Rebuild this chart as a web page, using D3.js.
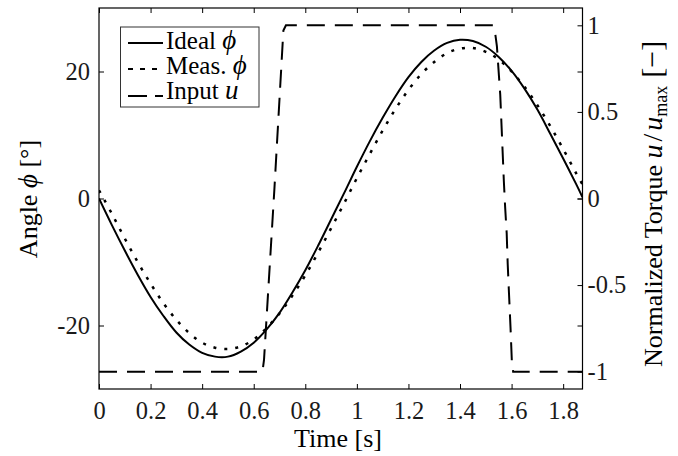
<!DOCTYPE html>
<html>
<head>
<meta charset="utf-8">
<script src="https://cdn.jsdelivr.net/npm/d3@7"></script>
<style>
  body { margin: 0; background: #fff; }
  svg { display: block; font-family: "Liberation Serif", "Times New Roman", serif; }
  .tick text { fill: #1a1a1a; font-family: "Liberation Serif", "Times New Roman", serif; }
</style>
</head>
<body>
<div id="chart"></div>
<script>
// time samples (s) for the angle curves
const timeSec = [0, 0.05, 0.1, 0.15, 0.2, 0.25, 0.3, 0.35, 0.4, 0.45, 0.5, 0.55, 0.6, 0.65,
  0.7, 0.75, 0.8, 0.85, 0.9, 0.95, 1.0, 1.05, 1.1, 1.15, 1.2, 1.25, 1.3, 1.35, 1.4, 1.45,
  1.5, 1.55, 1.6, 1.65, 1.7, 1.75, 1.8, 1.85, 1.875];

// ideal angle (deg)
const idealPhi = [0, -4.2, -8.2, -12.0, -15.5, -18.5, -21.1, -23.0, -24.3, -24.9, -24.9, -24.1,
  -22.7, -20.6, -18.0, -14.8, -11.3, -7.4, -3.3, 0.8, 5.0, 9.0, 12.7, 16.1, 19.1, 21.5, 23.3,
  24.5, 25.0, 24.8, 23.9, 22.3, 20.1, 17.3, 14.0, 10.2, 6.3, 2.3, 0.2];

// measured angle (deg)
const measPhi = [1.3, -2.4, -6.3, -10.0, -13.4, -16.5, -19.1, -21.2, -22.7, -23.5, -23.7, -23.3,
  -22.2, -20.4, -18.1, -15.3, -12.1, -8.5, -4.7, -0.8, 3.2, 7.0, 10.7, 14.1, 17.1, 19.6, 21.5,
  22.9, 23.6, 23.7, 23.1, 21.9, 20.0, 17.6, 14.7, 11.4, 7.8, 4.0, 2.2];

// normalized input torque u/umax (time, value)
const inputT = [0, 0.634, 0.64, 0.68, 0.715, 0.725, 1.528, 1.535, 1.543, 1.556, 1.563, 1.57,
  1.575, 1.581, 1.585, 1.59, 1.596, 1.601, 1.606, 1.875];
const inputU = [-1, -1, -0.93, 0.05, 0.97, 1, 1, 0.97, 0.88, 0.6, 0.35, 0.1,
  -0.05, -0.2, -0.38, -0.55, -0.75, -0.94, -1, -1];

const xTicks = [0, 0.2, 0.4, 0.6, 0.8, 1, 1.2, 1.4, 1.6, 1.8];
const leftTicks = [-20, 0, 20];
const rightTicks = [-1, -0.5, 0, 0.5, 1];

const W = 678, H = 456;
const margin = { top: 8, right: 95.5, bottom: 67, left: 99 };
const x0 = margin.left, x1 = W - margin.right;
const y0 = margin.top, y1 = H - margin.bottom;

const xScale = d3.scaleLinear().domain([0, 1.875]).range([x0, x1]);
const yLeft = d3.scaleLinear().domain([-30, 30]).range([y1, y0]);
const yRight = d3.scaleLinear().domain([-1.1, 1.1]).range([y1, y0]);

const svg = d3.select("#chart").append("svg")
  .attr("width", W)
  .attr("height", H);

svg.append("clipPath").attr("id", "clip")
  .append("rect")
  .attr("x", x0).attr("y", y0)
  .attr("width", x1 - x0).attr("height", y1 - y0);

const fontSize = 24.5;

// axes, ticks pointing inward; drop d3's sans-serif default so the serif font applies
function styleAxis(g) {
  g.attr("font-family", null).attr("font-size", fontSize);
  g.select(".domain").remove();
  g.selectAll(".tick line").attr("stroke", "#000");
}

svg.append("g")
  .attr("transform", `translate(0,${y1})`)
  .call(d3.axisBottom(xScale).tickValues(xTicks).tickFormat(d3.format("")).tickSize(-5).tickPadding(13))
  .call(styleAxis);

svg.append("g")
  .attr("transform", `translate(0,${y0})`)
  .call(d3.axisTop(xScale).tickValues(xTicks).tickFormat("").tickSize(-5))
  .call(styleAxis);

svg.append("g")
  .attr("transform", `translate(${x0},0)`)
  .call(d3.axisLeft(yLeft).tickValues(leftTicks).tickFormat(d => String(d)).tickSize(-5).tickPadding(9))
  .call(styleAxis);

// left ticks mirrored on the right edge
svg.append("g")
  .attr("transform", `translate(${x1},0)`)
  .call(d3.axisRight(yLeft).tickValues(leftTicks).tickFormat("").tickSize(-5))
  .call(styleAxis);

svg.append("g")
  .attr("transform", `translate(${x1},0)`)
  .call(d3.axisRight(yRight).tickValues(rightTicks).tickFormat(d => String(d)).tickSize(-5).tickPadding(5))
  .call(styleAxis);

// frame
svg.append("rect")
  .attr("x", x0).attr("y", y0)
  .attr("width", x1 - x0).attr("height", y1 - y0)
  .attr("fill", "none")
  .attr("stroke", "#000")
  .attr("stroke-width", 1.2);

const plot = svg.append("g").attr("clip-path", "url(#clip)");

const phiLine = d3.line()
  .x((d, i) => xScale(timeSec[i]))
  .y(d => yLeft(d))
  .curve(d3.curveCatmullRom);

const uLine = d3.line()
  .x((d, i) => xScale(inputT[i]))
  .y(d => yRight(d));

plot.append("path")
  .attr("d", uLine(inputU))
  .attr("fill", "none")
  .attr("stroke", "#000")
  .attr("stroke-width", 2)
  .attr("stroke-dasharray", "18,10");

plot.append("path")
  .attr("d", phiLine(measPhi))
  .attr("fill", "none")
  .attr("stroke", "#000")
  .attr("stroke-width", 2.5)
  .attr("stroke-dasharray", "3,8");

plot.append("path")
  .attr("d", phiLine(idealPhi))
  .attr("fill", "none")
  .attr("stroke", "#000")
  .attr("stroke-width", 2);

// axis labels
svg.append("text")
  .attr("x", 338).attr("y", 447)
  .attr("text-anchor", "middle")
  .attr("font-size", 26)
  .text("Time [s]");

const leftLabel = svg.append("text")
  .attr("transform", "translate(37,199) rotate(-90)")
  .attr("text-anchor", "middle")
  .attr("font-size", 26);
leftLabel.append("tspan").text("Angle ");
leftLabel.append("tspan").attr("font-style", "italic").attr("font-size", 27).text("ϕ");
leftLabel.append("tspan").text(" [°]");

const rightLabel = svg.append("text")
  .attr("transform", "translate(662,367) rotate(-90)")
  .attr("text-anchor", "start")
  .attr("font-size", 26);
rightLabel.append("tspan").text("Normalized Torque ");
rightLabel.append("tspan").attr("font-style", "italic").attr("font-size", 28).text("u");
rightLabel.append("tspan").attr("font-size", 28).attr("dx", 3).text("/");
rightLabel.append("tspan").attr("font-style", "italic").attr("font-size", 28).attr("dx", 3).text("u");
rightLabel.append("tspan").attr("font-size", 18).attr("dy", 5).text("max");
rightLabel.append("tspan").attr("font-size", 30).attr("dy", -5).attr("dx", 8).text("[−]");

// legend
const legend = svg.append("g");
legend.append("rect")
  .attr("x", 120.5).attr("y", 27)
  .attr("width", 138.5).attr("height", 80)
  .attr("fill", "#fff")
  .attr("stroke", "#333")
  .attr("stroke-width", 1);

const legendItems = [
  { name: "Ideal ", sym: "ϕ", dash: null, ly: 43, ty: 49 },
  { name: "Meas. ", sym: "ϕ", dash: "5,7", ly: 69, ty: 74 },
  { name: "Input ", sym: "u", dash: "19,8", ly: 96, ty: 99 }
];

legendItems.forEach(it => {
  legend.append("line")
    .attr("x1", 128).attr("x2", 163)
    .attr("y1", it.ly).attr("y2", it.ly)
    .attr("stroke", "#000")
    .attr("stroke-width", 2)
    .attr("stroke-dasharray", it.dash);
  const t = legend.append("text")
    .attr("x", 166).attr("y", it.ty)
    .attr("font-size", 25);
  t.append("tspan").text(it.name);
  t.append("tspan").attr("font-style", "italic").attr("font-size", 27).text(it.sym);
});
</script>
</body>
</html>
